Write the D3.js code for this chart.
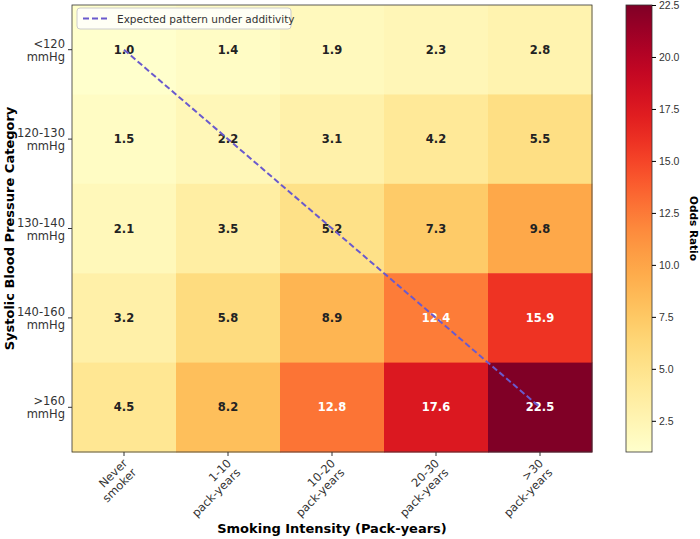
<!DOCTYPE html>
<html><head><meta charset="utf-8">
<script src="https://cdn.jsdelivr.net/npm/d3@7"></script>
<style>body{margin:0;background:#fff;font-family:"DejaVu Sans",sans-serif}</style>
</head><body><svg id="chart" width="700" height="539"></svg>
<script>
const cols = ["Never\nsmoker", "1-10\npack-years", "10-20\npack-years", "20-30\npack-years", ">30\npack-years"];
const rows = ["<120\nmmHg", "120-130\nmmHg", "130-140\nmmHg", "140-160\nmmHg", ">160\nmmHg"];
const values = [
  [1.0, 1.4, 1.9, 2.3, 2.8],
  [1.5, 2.2, 3.1, 4.2, 5.5],
  [2.1, 3.5, 5.2, 7.3, 9.8],
  [3.2, 5.8, 8.9, 12.4, 15.9],
  [4.5, 8.2, 12.8, 17.6, 22.5]
];
const cbTicks = [2.5, 5.0, 7.5, 10.0, 12.5, 15.0, 17.5, 20.0, 22.5];

const svg = d3.select("#chart");
const m = {l: 72, t: 5, r: 592, b: 452};
const x = d3.scaleBand().domain(d3.range(5)).range([m.l, m.r]);
const y = d3.scaleBand().domain(d3.range(5)).range([m.t, m.b]);
const color = d3.scaleSequential(d3.interpolateYlOrRd).domain([1.0, 22.5]);

const cells = [];
values.forEach((r, i) => r.forEach((v, j) => cells.push({i, j, v})));
svg.selectAll("rect.cell").data(cells).enter().append("rect")
  .attr("x", d => x(d.j)).attr("y", d => y(d.i))
  .attr("width", x.bandwidth() + 0.5).attr("height", y.bandwidth() + 0.5)
  .attr("fill", d => color(d.v));
svg.selectAll("text.val").data(cells).enter().append("text")
  .attr("x", d => x(d.j) + x.bandwidth()/2).attr("y", d => y(d.i) + y.bandwidth()/2)
  .attr("text-anchor", "middle").attr("dominant-baseline", "central")
  .attr("font-size", 11.5).attr("font-weight", "bold")
  .attr("fill", d => d.v > 11.5 ? "#fff" : "#222")
  .text(d => d.v.toFixed(1));

// additivity line
svg.append("line")
  .attr("x1", x(0) + x.bandwidth()/2).attr("y1", y(0) + y.bandwidth()/2)
  .attr("x2", x(4) + x.bandwidth()/2).attr("y2", y(4) + y.bandwidth()/2)
  .attr("stroke", "#6a5acd").attr("stroke-width", 2).attr("stroke-dasharray", "6,3");

// frame + axes
svg.append("rect").attr("x", m.l).attr("y", m.t).attr("width", m.r - m.l).attr("height", m.b - m.t)
  .attr("fill", "none").attr("stroke", "#333").attr("stroke-width", 0.8);
const gy = svg.append("g");
rows.forEach((r, i) => {
  const cy = y(i) + y.bandwidth()/2;
  gy.append("line").attr("x1", m.l - 4).attr("x2", m.l).attr("y1", cy).attr("y2", cy).attr("stroke", "#333");
  const t = gy.append("text").attr("text-anchor", "end").attr("font-size", 11.5).attr("fill", "#333");
  r.split("\n").forEach((s, k) => t.append("tspan").attr("x", m.l - 7).attr("y", cy - 2 + k * 13).text(s));
});
cols.forEach((c, j) => {
  const cx = x(j) + x.bandwidth()/2;
  svg.append("line").attr("x1", cx).attr("x2", cx).attr("y1", m.b).attr("y2", m.b + 4).attr("stroke", "#333");
  const t = svg.append("text").attr("text-anchor", "end").attr("font-size", 11.5).attr("fill", "#333")
    .attr("transform", `translate(${cx + 4},${m.b + 12}) rotate(-45)`);
  c.split("\n").forEach((s, k) => t.append("tspan").attr("x", 0).attr("y", k * 13).text(s));
});
svg.append("text").attr("x", (m.l + m.r)/2).attr("y", 533).attr("text-anchor", "middle")
  .attr("font-size", 13).attr("font-weight", "bold").text("Smoking Intensity (Pack-years)");
svg.append("text").attr("transform", `translate(14,${(m.t + m.b)/2}) rotate(-90)`).attr("text-anchor", "middle")
  .attr("font-size", 13).attr("font-weight", "bold").text("Systolic Blood Pressure Category");

// legend
const lg = svg.append("g").attr("transform", "translate(77,8)");
lg.append("rect").attr("width", 214).attr("height", 21).attr("rx", 3).attr("fill", "#fff").attr("fill-opacity", 0.8).attr("stroke", "#ccc");
lg.append("line").attr("x1", 6).attr("x2", 32).attr("y1", 10.5).attr("y2", 10.5)
  .attr("stroke", "#6a5acd").attr("stroke-width", 2).attr("stroke-dasharray", "6,3");
lg.append("text").attr("x", 40).attr("y", 14.5).attr("font-size", 10.5).attr("fill", "#333").text("Expected pattern under additivity");

// colorbar
const cb = {x: 626, w: 26};
const cy = d3.scaleLinear().domain([1.0, 22.5]).range([m.b, m.t]);
const defs = svg.append("defs");
const grad = defs.append("linearGradient").attr("id", "g").attr("x1", 0).attr("y1", 1).attr("x2", 0).attr("y2", 0);
d3.range(0, 1.01, 0.05).forEach(p => grad.append("stop").attr("offset", p).attr("stop-color", color(1 + p * 21.5)));
svg.append("rect").attr("x", cb.x).attr("y", m.t).attr("width", cb.w).attr("height", m.b - m.t)
  .attr("fill", "url(#g)").attr("stroke", "#333").attr("stroke-width", 0.8);
svg.append("g").attr("transform", `translate(${cb.x + cb.w},0)`)
  .call(d3.axisRight(cy).tickValues(cbTicks).tickFormat(d3.format(".1f")).tickSize(4))
  .call(g => g.select(".domain").remove())
  .call(g => g.selectAll("text").attr("font-size", 10.5).attr("fill", "#333"));
svg.append("text").attr("transform", `translate(690,${(m.t + m.b)/2}) rotate(90)`).attr("text-anchor", "middle")
  .attr("font-size", 10.5).attr("font-weight", "bold").text("Odds Ratio");
</script></body></html>
